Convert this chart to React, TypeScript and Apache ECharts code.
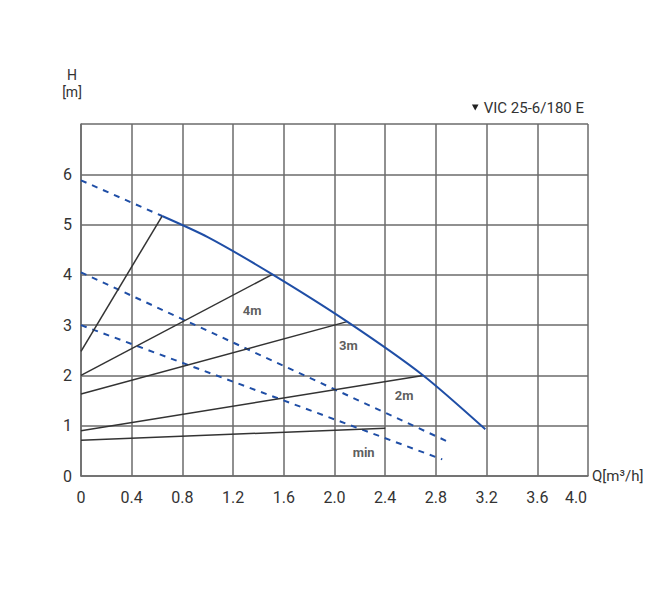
import React, { useEffect, useRef } from "react";
import * as echarts from "echarts";

const xTicks = [0, 0.4, 0.8, 1.2, 1.6, 2.0, 2.4, 2.8, 3.2, 3.6, 4.0];
const maxCurve: [number, number][] = [
  [0.64, 5.17], [1.0, 4.75], [1.51, 4.01], [2.1, 3.07], [2.7, 2.0], [3.19, 0.93],
];
const maxCurveExt: [number, number][] = [[0, 5.88], [0.64, 5.17]];
const dashedMid: [number, number][] = [[0, 4.05], [2.88, 0.7]];
const dashedLow: [number, number][] = [[0, 3.0], [2.85, 0.33]];
const sys1: [number, number][] = [[0, 2.48], [0.64, 5.17]];
const sys4m: [number, number][] = [[0, 2.0], [1.51, 4.01]];
const sys3m: [number, number][] = [[0, 1.63], [2.1, 3.07]];
const sys2m: [number, number][] = [[0, 0.9], [2.7, 2.0]];
const sysMin: [number, number][] = [[0, 0.71], [2.4, 0.95]];
const curveLabels = [
  { name: "4m", value: [1.35, 3.3] },
  { name: "3m", value: [2.11, 2.6] },
  { name: "2m", value: [2.55, 1.6] },
  { name: "min", value: [2.23, 0.46] },
];
const legendName = "VIC 25-6/180 E";

const FONT = "Roboto, 'Liberation Sans Narrow', 'DejaVu Sans Condensed', sans-serif";
const BLUE = "#1f4ea6";
const DARK = "#333333";
const GRID = "#6b6b6b";

export default function App() {
  const ref = useRef<HTMLDivElement>(null);
  useEffect(() => {
    if (!ref.current) return;
    const chart = echarts.init(ref.current, null, { renderer: "svg" });
    const blackLine = (name: string, data: [number, number][]) => ({
      type: "line",
      name,
      data,
      showSymbol: false,
      symbol: "none",
      lineStyle: { color: DARK, width: 1.5 },
      z: 3,
    });
    const dashLine = (name: string, data: [number, number][]) => ({
      type: "line",
      name,
      data,
      symbol: "none",
      lineStyle: { color: BLUE, width: 2, type: [6, 6] },
      z: 2,
    });
    chart.setOption({
      animation: false,
      backgroundColor: "#ffffff",
      textStyle: { fontFamily: FONT },
      legend: {
        right: 77,
        top: 95,
        itemWidth: 7,
        itemHeight: 6,
        itemGap: 6,
        selectedMode: false,
        textStyle: { fontFamily: FONT, fontSize: 15, color: DARK },
        data: [
          { name: legendName, icon: "path://M0,0L10,0L5,9Z", itemStyle: { color: "#222" } },
        ],
      },
      grid: { left: 81, right: 78, top: 124, bottom: 124 },
      xAxis: {
        type: "value",
        min: 0,
        max: 4,
        interval: 0.4,
        name: "Q[m³/h]",
        nameLocation: "end",
        nameGap: 4,
        nameTextStyle: {
          fontFamily: FONT,
          fontSize: 15,
          color: DARK,
          verticalAlign: "middle",
          padding: [44, 0, 0, 0],
        },
        axisLine: { show: true, lineStyle: { color: GRID, width: 1.5 } },
        axisTick: { show: false },
        splitLine: { show: true, lineStyle: { color: GRID, width: 1.5 } },
        axisLabel: {
          margin: 13,
          fontFamily: FONT,
          fontSize: 16,
          color: DARK,
          showMaxLabel: true,
          formatter: (v: number) => {
            const t = xTicks.find((x) => Math.abs(x - v) < 1e-6);
            const s = t === undefined ? "" : t === 0 ? "0" : t.toFixed(1);
            return Math.abs(v - 4) < 1e-6 ? "{last|" + s + "}" : s;
          },
          rich: {
            last: { fontFamily: FONT, fontSize: 16, color: DARK, padding: [0, 24, 0, 0] },
          },
        },
      },
      yAxis: {
        type: "value",
        min: 0,
        max: 7,
        interval: 1,
        name: "H\n[m]",
        nameLocation: "end",
        nameGap: 24,
        nameTextStyle: {
          fontFamily: FONT,
          fontSize: 14,
          color: DARK,
          lineHeight: 17,
          padding: [0, 18, 0, 0],
        },
        axisLine: { show: true, lineStyle: { color: GRID, width: 1.5 } },
        axisTick: { show: false },
        splitLine: { show: true, lineStyle: { color: GRID, width: 1.5 } },
        axisLabel: {
          margin: 9,
          fontFamily: FONT,
          fontSize: 16,
          color: DARK,
          formatter: (v: number) => (v >= 7 ? "" : String(v)),
        },
      },
      series: [
        {
          type: "line",
          name: legendName,
          data: maxCurve,
          smooth: 0.25,
          symbol: "none",
          lineStyle: { color: BLUE, width: 2 },
          itemStyle: { color: BLUE },
          z: 4,
        },
        dashLine("ext", maxCurveExt),
        dashLine("mid", dashedMid),
        dashLine("low", dashedLow),
        blackLine("s1", sys1),
        blackLine("s4m", sys4m),
        blackLine("s3m", sys3m),
        blackLine("s2m", sys2m),
        blackLine("smin", sysMin),
        {
          type: "scatter",
          name: "labels",
          data: curveLabels,
          symbolSize: 0,
          label: {
            show: true,
            position: "inside",
            formatter: (p: any) => p.name,
            fontFamily: FONT,
            fontSize: 13,
            fontWeight: "bold",
            color: DARK,
          },
          z: 5,
        },
      ],
    });
    return () => chart.dispose();
  }, []);
  return (
    <div
      ref={ref}
      style={{ position: "absolute", left: 0, top: 0, width: 666, height: 600 }}
    />
  );
}
